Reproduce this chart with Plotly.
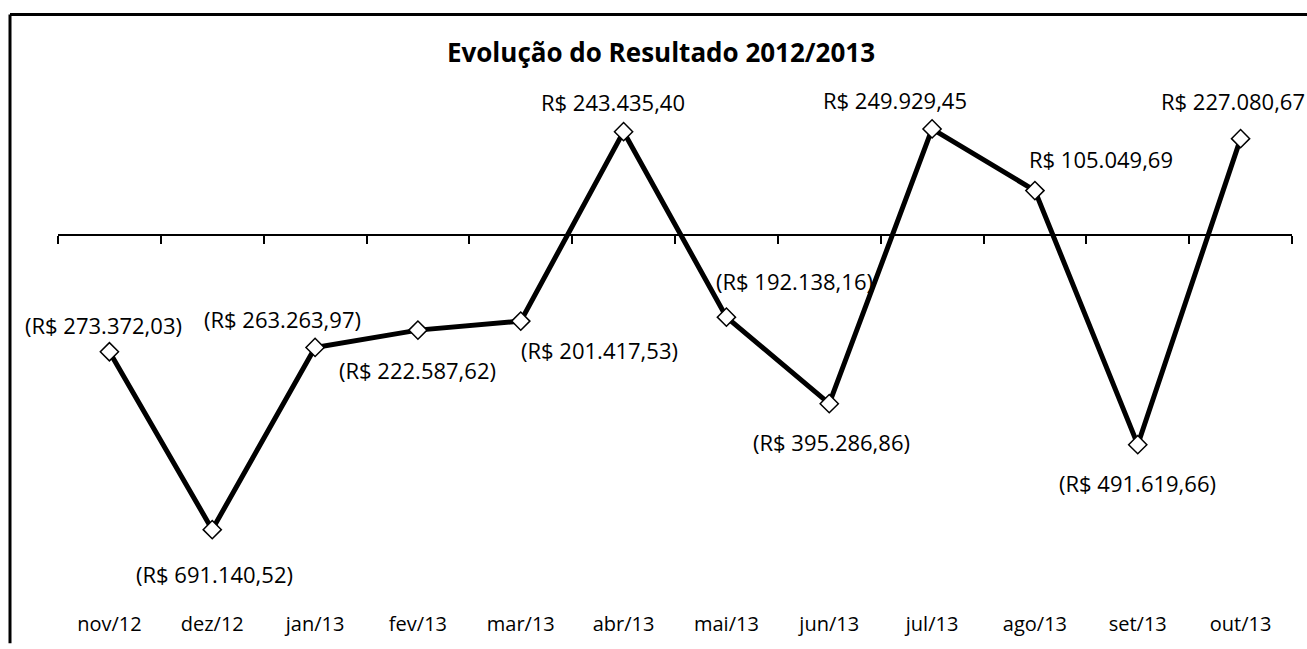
import plotly.graph_objects as go

months = ["nov/12", "dez/12", "jan/13", "fev/13", "mar/13", "abr/13",
          "mai/13", "jun/13", "jul/13", "ago/13", "set/13", "out/13"]
resultado = [-273372.03, -691140.52, -263263.97, -222587.62, -201417.53, 243435.40,
             -192138.16, -395286.86, 249929.45, 105049.69, -491619.66, 227080.67]
title_text = "Evolução do Resultado 2012/2013"

# label offsets in pixels (styling)
label_dx = [-6, 2, -33, 0, 79, -11, 68, 2, -37, 66, 0, -8]
label_dy = [27, -44, 28, -40, -29, 30, 36, -38, 29, 32, -38, 38]

W, H = 1307, 649
ML, MR, MT, MB = 58, 15, 65, 68
YMIN, YMAX = -800000, 400000
FONT = "Open Sans"


def brl(v):
    s = f"{abs(v):,.2f}".replace(",", "X").replace(".", ",").replace("X", ".")
    return f"(R$ {s})" if v < 0 else f"R$ {s}"


fig = go.Figure()
fig.add_trace(go.Scatter(
    x=months, y=resultado, mode="lines+markers",
    line=dict(color="black", width=5),
    marker=dict(symbol="diamond", size=14, color="white",
                line=dict(color="black", width=1.5)),
    xaxis="x", yaxis="y", showlegend=False, hoverinfo="skip",
))
# invisible trace to activate the zero-positioned axis
fig.add_trace(go.Scatter(x=months, y=resultado, mode="markers",
                         marker=dict(opacity=0), xaxis="x2", yaxis="y",
                         showlegend=False, hoverinfo="skip"))

for m, v, dx, dy in zip(months, resultado, label_dx, label_dy):
    fig.add_annotation(x=m, y=v, text=brl(v), showarrow=False,
                       xshift=dx, yshift=dy,
                       font=dict(family=FONT, size=22, color="black"))

zero_pos = (0 - YMIN) / (YMAX - YMIN)

plot_w = W - ML - MR
plot_h = H - MT - MB
px = lambda p: (p - ML) / plot_w
py = lambda p: (H - MB - p) / plot_h
fig.add_shape(type="line", xref="paper", yref="paper",
              x0=px(10), x1=px(10), y0=py(649), y1=py(14),
              line=dict(color="black", width=3))
fig.add_shape(type="line", xref="paper", yref="paper",
              x0=px(10), x1=px(1307), y0=py(14), y1=py(14),
              line=dict(color="black", width=3))

fig.update_layout(
    width=W, height=H,
    margin=dict(l=ML, r=MR, t=MT, b=MB),
    paper_bgcolor="white", plot_bgcolor="white",
    title=dict(text=f"<b>{title_text}</b>", x=661 / W, xref="container",
               y=1 - 53 / H, yref="container", yanchor="middle", xanchor="center",
               font=dict(family=FONT, size=26, color="black")),
    xaxis=dict(type="category", categoryorder="array", categoryarray=months,
               showline=False, showgrid=False, zeroline=False, ticks="",
               ticklabelstandoff=34,
               tickfont=dict(family=FONT, size=20, color="black"),
               range=[-0.5, 11.5]),
    xaxis2=dict(type="category", categoryorder="array", categoryarray=months,
                overlaying="x", anchor="free", position=zero_pos, side="bottom",
                showline=True, linecolor="black", linewidth=1.5,
                ticks="outside", tickson="boundaries", ticklen=8,
                tickwidth=1.5, tickcolor="black",
                showticklabels=False, showgrid=False, zeroline=False,
                range=[-0.5, 11.5]),
    yaxis=dict(range=[YMIN, YMAX], visible=False, showgrid=False,
               zeroline=False),
)

fig.write_html("out.html", config={"displayModeBar": False},
               post_script="document.body.style.margin='0px';document.body.style.overflow='hidden';")
